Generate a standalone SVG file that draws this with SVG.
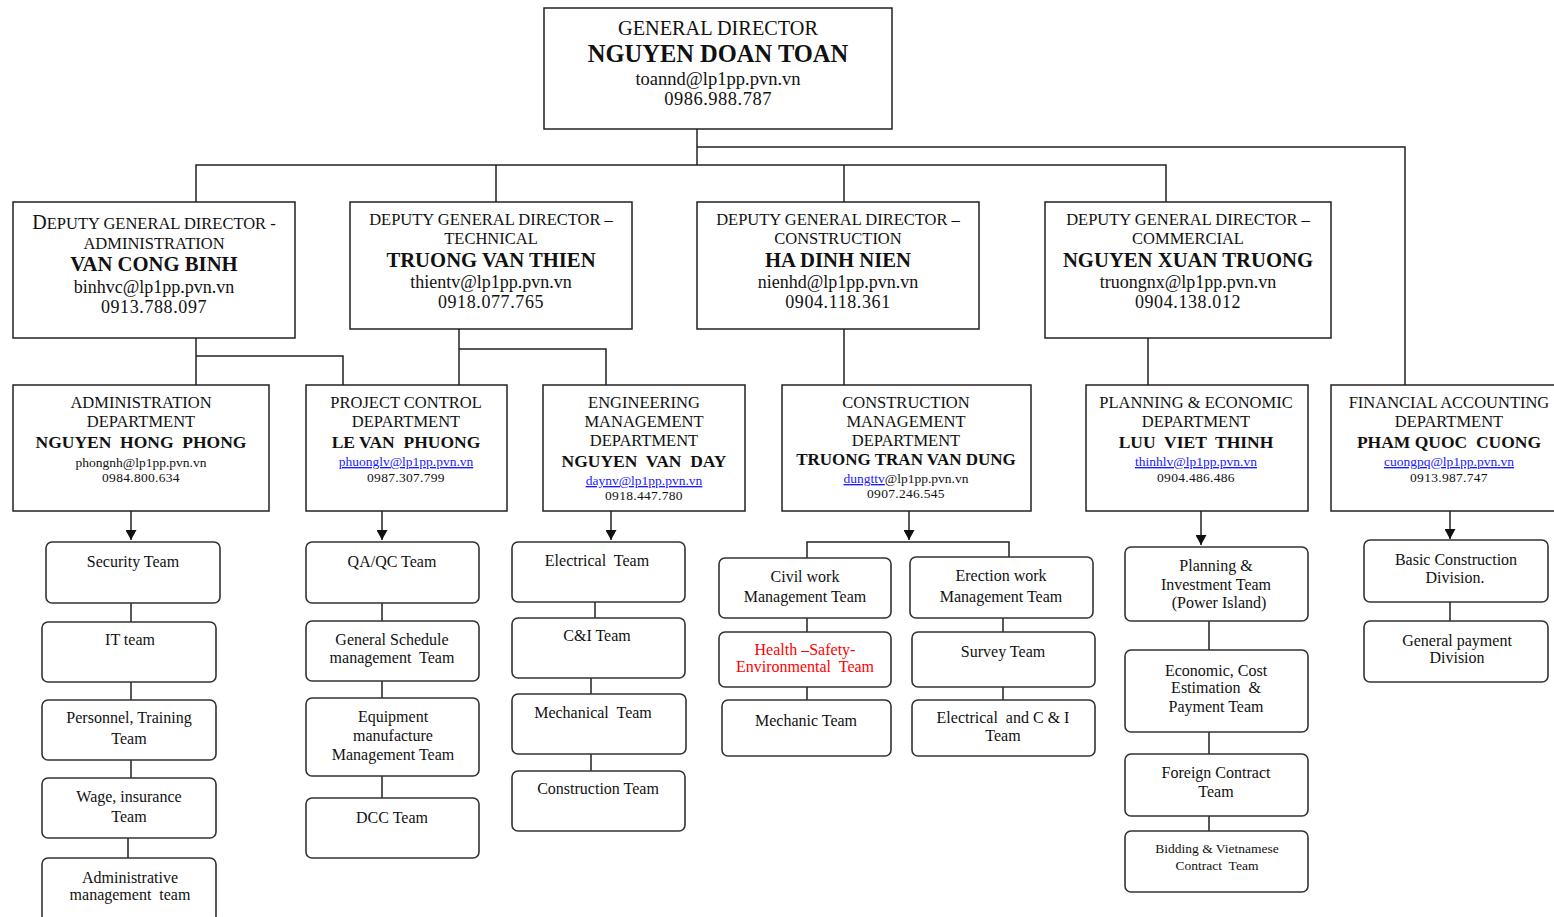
<svg xmlns="http://www.w3.org/2000/svg" width="1554" height="917" viewBox="0 0 1554 917">
<style>
text{font-family:"Liberation Serif","Times New Roman",serif;text-anchor:middle;fill:#111}
.box{fill:#fff;stroke:#222;stroke-width:1.5}
.team{fill:#fff;stroke:#333;stroke-width:1.6}
.conn{fill:none;stroke:#222;stroke-width:1.5}
.dt{font-size:16.5px}
.dn{font-size:20.7px;font-weight:bold}
.de{font-size:18px}
.dp{font-size:18px;letter-spacing:0.6px}
.pt{font-size:16.5px}
.pn{font-size:17.5px;font-weight:bold}
.pe{font-size:13.5px}
.pp{font-size:13.5px;letter-spacing:0.3px}
.lnk{fill:#1a1aff;text-decoration:underline}
.tt{font-size:16px}
.red{fill:#f00}
</style>
<defs>
<marker id="arr" viewBox="0 0 10 11" refX="10" refY="5.5" markerWidth="10" markerHeight="11" markerUnits="userSpaceOnUse" orient="auto">
<path d="M0,0 L10,5.5 L0,11 z" fill="#111"/>
</marker>
</defs>

<g id="connectors">
<path class="conn" d="M697 129 V165"/>
<path class="conn" d="M196 202 V165 H1166 V202"/>
<path class="conn" d="M496 165 V202"/>
<path class="conn" d="M844 165 V202"/>
<path class="conn" d="M697 147 H1405 V385"/>
<path class="conn" d="M196 338 V385"/>
<path class="conn" d="M196 356 H343 V385"/>
<path class="conn" d="M459 329 V385"/>
<path class="conn" d="M459 349 H606 V385"/>
<path class="conn" d="M844 329 V385"/>
<path class="conn" d="M1148 338 V385"/>
<path class="conn" d="M131 511 V540" marker-end="url(#arr)"/>
<path class="conn" d="M382 511 V540" marker-end="url(#arr)"/>
<path class="conn" d="M611 511 V540" marker-end="url(#arr)"/>
<path class="conn" d="M909 511 V540" marker-end="url(#arr)"/>
<path class="conn" d="M1201 511 V545" marker-end="url(#arr)"/>
<path class="conn" d="M1450 511 V539" marker-end="url(#arr)"/>
<path class="conn" d="M807 558 V542 H1009 V557"/>
<path class="conn" d="M131 603 V622 M131 682 V700 M131 760 V778 M128 838 V858"/>
<path class="conn" d="M382 603 V621 M382 681 V698 M382 776 V798"/>
<path class="conn" d="M595 602 V618 M591 678 V694 M591 754 V771"/>
<path class="conn" d="M807 618 V632 M807 687 V700 M1003 618 V632 M1003 687 V700"/>
<path class="conn" d="M1209 621 V650 M1209 732 V754 M1209 816 V831"/>
<path class="conn" d="M1450 602 V621"/>
</g>

<g id="general-director">
<rect class="box" x="544" y="8" width="348" height="121"/>
<text x="718" y="35" style="font-size:20.3px">GENERAL DIRECTOR</text>
<text x="718" y="62" style="font-size:24.5px;font-weight:bold">NGUYEN DOAN TOAN</text>
<text x="718" y="85" style="font-size:18.5px">toannd@lp1pp.pvn.vn</text>
<text x="718" y="105" style="font-size:18.5px;letter-spacing:0.5px">0986.988.787</text>
</g>

<g id="dgd-admin">
<rect class="box" x="13" y="202" width="282" height="136"/>
<text x="154" y="229" class="dt"><tspan style="font-size:20px">D</tspan>EPUTY GENERAL DIRECTOR -</text>
<text x="154" y="249" class="dt">ADMINISTRATION</text>
<text x="154" y="271" class="dn">VAN CONG BINH</text>
<text x="154" y="293" class="de">binhvc@lp1pp.pvn.vn</text>
<text x="154" y="313" class="dp">0913.788.097</text>
</g>

<g id="dgd-technical">
<rect class="box" x="350" y="202" width="282" height="127"/>
<text x="491" y="225" class="dt">DEPUTY GENERAL DIRECTOR –</text>
<text x="491" y="244" class="dt">TECHNICAL</text>
<text x="491" y="267" class="dn">TRUONG VAN THIEN</text>
<text x="491" y="288" class="de">thientv@lp1pp.pvn.vn</text>
<text x="491" y="308" class="dp">0918.077.765</text>
</g>

<g id="dgd-construction">
<rect class="box" x="697" y="202" width="282" height="127"/>
<text x="838" y="225" class="dt">DEPUTY GENERAL DIRECTOR –</text>
<text x="838" y="244" class="dt">CONSTRUCTION</text>
<text x="838" y="267" class="dn">HA DINH NIEN</text>
<text x="838" y="288" class="de">nienhd@lp1pp.pvn.vn</text>
<text x="838" y="308" class="dp">0904.118.361</text>
</g>

<g id="dgd-commercial">
<rect class="box" x="1045" y="202" width="286" height="136"/>
<text x="1188" y="225" class="dt">DEPUTY GENERAL DIRECTOR –</text>
<text x="1188" y="244" class="dt">COMMERCIAL</text>
<text x="1188" y="267" class="dn">NGUYEN XUAN TRUONG</text>
<text x="1188" y="288" class="de">truongnx@lp1pp.pvn.vn</text>
<text x="1188" y="308" class="dp">0904.138.012</text>
</g>

<g id="dept-admin">
<rect class="box" x="13" y="385" width="256" height="126"/>
<text x="141" y="408" class="pt">ADMINISTRATION</text>
<text x="141" y="427" class="pt">DEPARTMENT</text>
<text x="141" y="448" class="pn" xml:space="preserve">NGUYEN  HONG  PHONG</text>
<text x="141" y="467" class="pe">phongnh@lp1pp.pvn.vn</text>
<text x="141" y="482" class="pp">0984.800.634</text>
</g>

<g id="dept-project-control">
<rect class="box" x="306" y="385" width="201" height="126"/>
<text x="406" y="408" class="pt">PROJECT CONTROL</text>
<text x="406" y="427" class="pt">DEPARTMENT</text>
<text x="406" y="448" class="pn" xml:space="preserve">LE VAN  PHUONG</text>
<text x="406" y="466" class="pe lnk">phuonglv@lp1pp.pvn.vn</text>
<text x="406" y="482" class="pp">0987.307.799</text>
</g>

<g id="dept-engineering">
<rect class="box" x="543" y="385" width="202" height="126"/>
<text x="644" y="408" class="pt">ENGINEERING</text>
<text x="644" y="427" class="pt">MANAGEMENT</text>
<text x="644" y="446" class="pt">DEPARTMENT</text>
<text x="644" y="467" class="pn" xml:space="preserve">NGUYEN  VAN  DAY</text>
<text x="644" y="485" class="pe lnk">daynv@lp1pp.pvn.vn</text>
<text x="644" y="500" class="pp">0918.447.780</text>
</g>

<g id="dept-construction-mgmt">
<rect class="box" x="782" y="385" width="249" height="126"/>
<text x="906" y="408" class="pt">CONSTRUCTION</text>
<text x="906" y="427" class="pt">MANAGEMENT</text>
<text x="906" y="446" class="pt">DEPARTMENT</text>
<text x="906" y="465" class="pn" style="font-size:17px">TRUONG TRAN VAN DUNG</text>
<text x="906" y="483" class="pe"><tspan class="lnk">dungttv</tspan>@lp1pp.pvn.vn</text>
<text x="906" y="498" class="pp">0907.246.545</text>
</g>

<g id="dept-planning">
<rect class="box" x="1086" y="385" width="222" height="126"/>
<text x="1196" y="408" class="pt">PLANNING &amp; ECONOMIC</text>
<text x="1196" y="427" class="pt">DEPARTMENT</text>
<text x="1196" y="448" class="pn" xml:space="preserve">LUU  VIET  THINH</text>
<text x="1196" y="466" class="pe lnk">thinhlv@lp1pp.pvn.vn</text>
<text x="1196" y="482" class="pp">0904.486.486</text>
</g>

<g id="dept-financial">
<rect class="box" x="1331" y="385" width="240" height="126"/>
<text x="1449" y="408" class="pt">FINANCIAL ACCOUNTING</text>
<text x="1449" y="427" class="pt">DEPARTMENT</text>
<text x="1449" y="448" class="pn" xml:space="preserve">PHAM QUOC  CUONG</text>
<text x="1449" y="466" class="pe lnk">cuongpq@lp1pp.pvn.vn</text>
<text x="1449" y="482" class="pp">0913.987.747</text>
</g>

<g id="team-security"><rect class="team" x="46" y="542" width="174" height="61" rx="6"/><text x="133" y="567" class="tt">Security Team</text></g>
<g id="team-it"><rect class="team" x="42" y="622" width="174" height="60" rx="6"/><text x="130" y="645" class="tt">IT team</text></g>
<g id="team-personnel"><rect class="team" x="42" y="700" width="174" height="60" rx="6"/><text x="129" y="723" class="tt">Personnel, Training</text><text x="129" y="744" class="tt">Team</text></g>
<g id="team-wage"><rect class="team" x="42" y="778" width="174" height="60" rx="6"/><text x="129" y="802" class="tt">Wage, insurance</text><text x="129" y="822" class="tt">Team</text></g>
<g id="team-admin-mgmt"><rect class="team" x="42" y="858" width="174" height="64" rx="6"/><text x="130" y="883" class="tt">Administrative</text><text x="130" y="900" class="tt" xml:space="preserve">management  team</text></g>

<g id="team-qaqc"><rect class="team" x="306" y="542" width="173" height="61" rx="6"/><text x="392" y="567" class="tt">QA/QC Team</text></g>
<g id="team-schedule"><rect class="team" x="306" y="621" width="173" height="60" rx="6"/><text x="392" y="645" class="tt">General Schedule</text><text x="392" y="663" class="tt" xml:space="preserve">management  Team</text></g>
<g id="team-equipment"><rect class="team" x="306" y="698" width="173" height="78" rx="6"/><text x="393" y="722" class="tt">Equipment</text><text x="393" y="741" class="tt">manufacture</text><text x="393" y="760" class="tt">Management Team</text></g>
<g id="team-dcc"><rect class="team" x="306" y="798" width="173" height="60" rx="6"/><text x="392" y="823" class="tt">DCC Team</text></g>

<g id="team-electrical"><rect class="team" x="512" y="542" width="173" height="60" rx="6"/><text x="597" y="566" class="tt" xml:space="preserve">Electrical  Team</text></g>
<g id="team-ci"><rect class="team" x="512" y="618" width="173" height="60" rx="6"/><text x="597" y="641" class="tt">C&amp;I Team</text></g>
<g id="team-mechanical"><rect class="team" x="512" y="694" width="174" height="60" rx="6"/><text x="593" y="718" class="tt" xml:space="preserve">Mechanical  Team</text></g>
<g id="team-construction"><rect class="team" x="512" y="771" width="173" height="60" rx="6"/><text x="598" y="794" class="tt">Construction Team</text></g>

<g id="team-civil"><rect class="team" x="719" y="558" width="172" height="60" rx="6"/><text x="805" y="582" class="tt">Civil work</text><text x="805" y="602" class="tt">Management Team</text></g>
<g id="team-erection"><rect class="team" x="910" y="557" width="183" height="61" rx="6"/><text x="1001" y="581" class="tt">Erection work</text><text x="1001" y="602" class="tt">Management Team</text></g>
<g id="team-hse"><rect class="team" x="719" y="632" width="172" height="55" rx="6"/><text x="805" y="655" class="tt red">Health –Safety-</text><text x="805" y="672" class="tt red" xml:space="preserve">Environmental  Team</text></g>
<g id="team-survey"><rect class="team" x="912" y="632" width="183" height="55" rx="6"/><text x="1003" y="657" class="tt">Survey Team</text></g>
<g id="team-mechanic"><rect class="team" x="722" y="700" width="169" height="56" rx="6"/><text x="806" y="726" class="tt">Mechanic Team</text></g>
<g id="team-elec-ci"><rect class="team" x="912" y="700" width="183" height="56" rx="6"/><text x="1003" y="723" class="tt" xml:space="preserve">Electrical  and C &amp; I</text><text x="1003" y="741" class="tt">Team</text></g>

<g id="team-planning"><rect class="team" x="1125" y="547" width="183" height="74" rx="6"/><text x="1216" y="571" class="tt">Planning &amp;</text><text x="1216" y="590" class="tt">Investment Team</text><text x="1219" y="608" class="tt">(Power Island)</text></g>
<g id="team-economic"><rect class="team" x="1125" y="650" width="183" height="82" rx="6"/><text x="1216" y="676" class="tt">Economic, Cost</text><text x="1216" y="693" class="tt" xml:space="preserve">Estimation  &amp;</text><text x="1216" y="712" class="tt">Payment Team</text></g>
<g id="team-foreign"><rect class="team" x="1125" y="754" width="183" height="62" rx="6"/><text x="1216" y="778" class="tt">Foreign Contract</text><text x="1216" y="797" class="tt">Team</text></g>
<g id="team-bidding"><rect class="team" x="1125" y="831" width="183" height="61" rx="6"/><text x="1217" y="853" style="font-size:13.5px">Bidding &amp; Vietnamese</text><text x="1217" y="870" style="font-size:13.5px" xml:space="preserve">Contract  Team</text></g>

<g id="team-basic"><rect class="team" x="1364" y="540" width="184" height="62" rx="6"/><text x="1456" y="565" class="tt">Basic Construction</text><text x="1455" y="583" class="tt">Division.</text></g>
<g id="team-payment"><rect class="team" x="1364" y="621" width="184" height="61" rx="6"/><text x="1457" y="646" class="tt">General payment</text><text x="1457" y="663" class="tt">Division</text></g>
</svg>
